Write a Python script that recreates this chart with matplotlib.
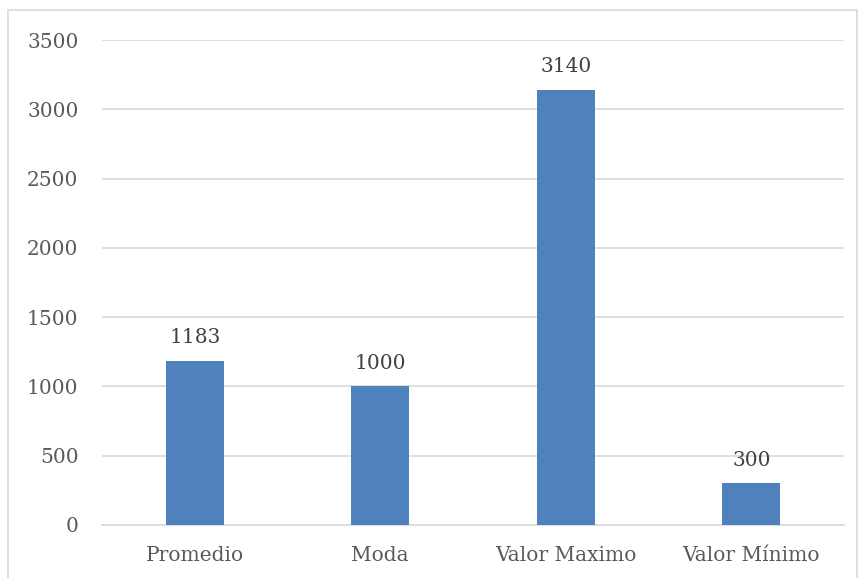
import matplotlib
matplotlib.use("Agg")
import matplotlib.pyplot as plt
from matplotlib.patches import Rectangle

categories = ["Promedio", "Moda", "Valor Maximo", "Valor Mínimo"]
values = [1183, 1000, 3140, 300]
yticks = [0, 500, 1000, 1500, 2000, 2500, 3000, 3500]

plt.rcParams['font.family'] = ['DejaVu Serif']
W, H = 858, 578
fig = plt.figure(figsize=(W/100, H/100), dpi=100)
ax = fig.add_axes([102/W, 1-525/H, (844-102)/W, (525-40)/H])

text_color = "#595959"
x = range(len(categories))
bars = ax.bar(x, values, width=0.31, color="#4F81BD", zorder=3)
for xi, v in zip(x, values):
    ax.annotate(str(v), (xi, v), xytext=(0, 10), textcoords="offset points",
                ha="center", va="bottom", fontsize=14.5, color="#404040")

ax.set_xlim(-0.5, len(categories)-0.5)
ax.set_ylim(0, 3500)
ax.set_yticks(yticks)
ax.set_xticks(list(x))
ax.set_xticklabels(categories)
ax.yaxis.grid(True, color="#D9D9D9", linewidth=1.2, zorder=0)
ax.tick_params(axis="both", length=0, labelsize=14.5, labelcolor=text_color)
ax.tick_params(axis="y", pad=17)
ax.tick_params(axis="x", pad=15)
for s in ["top", "right", "left"]:
    ax.spines[s].set_visible(False)
ax.spines["bottom"].set_color("#D9D9D9")
ax.spines["bottom"].set_linewidth(1.2)

fig.patches.append(Rectangle((8/W, -0.05), (857-8)/W, 1.05-10/H, transform=fig.transFigure,
                             fill=False, edgecolor="#D9D9D9", linewidth=1.2))
fig.savefig("out.png", dpi=100)
